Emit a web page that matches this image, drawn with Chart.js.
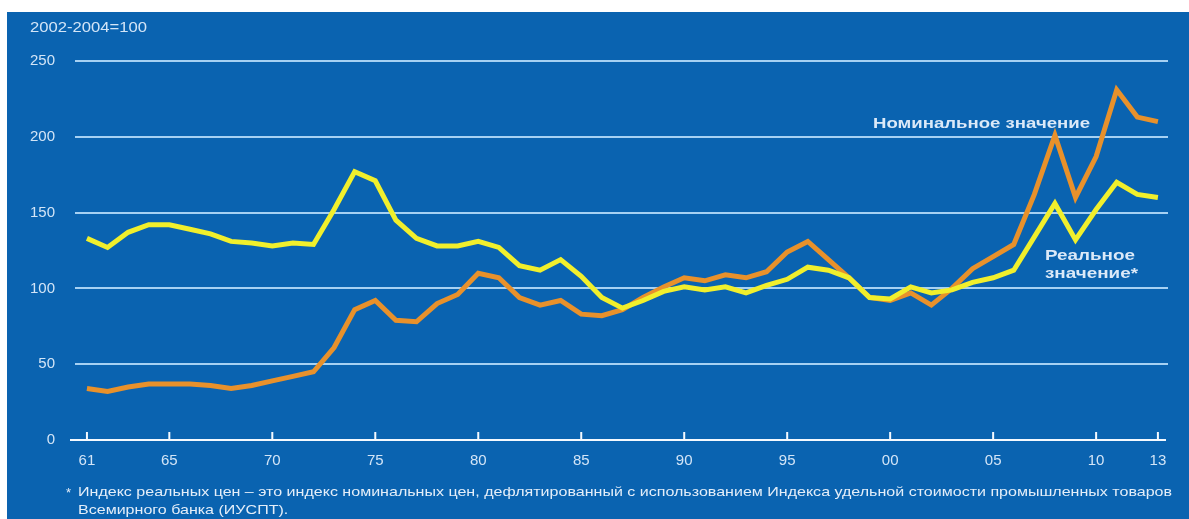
<!DOCTYPE html>
<html>
<head>
<meta charset="utf-8">
<script src="https://cdn.jsdelivr.net/npm/chart.js@4.4.1/dist/chart.umd.min.js"></script>
<style>
  html, body { margin: 0; padding: 0; background: #fff; }
  #wrap { width: 1189px; height: 519px; }
</style>
</head>
<body>
<div id="wrap"><canvas id="myChart"></canvas></div>
<script>
// years 1961..2013, index 2002-2004=100
const years = [];
for (let y = 1961; y <= 2013; y++) years.push(y);

const realValues = [
    133, 127, 137, 142, 142, 139, 136, 131, 130, 128,   // 61-70
    130, 129, 152, 177, 171, 145, 133, 128, 128, 131,   // 71-80
    127, 115, 112, 119, 108, 94, 87, 92, 98, 101,       // 81-90
    99, 101, 97, 102, 106, 114, 112, 107, 94, 93,       // 91-00
    101, 97, 99, 104, 107, 112, 134, 156, 132, 152,     // 01-10
    170, 162, 160                                       // 11-13
];

const nominalValues = [
    34, 32, 35, 37, 37, 37, 36, 34, 36, 39,             // 61-70
    42, 45, 61, 86, 92, 79, 78, 90, 96, 110,            // 71-80
    107, 94, 89, 92, 83, 82, 86, 94, 101, 107,          // 81-90
    105, 109, 107, 111, 124, 131, 119, 107, 94, 92,     // 91-00
    97, 89, 100, 113, 121, 129, 162, 201, 160, 187,     // 01-10
    231, 213, 210                                       // 11-13
];

const xTicks = [1961, 1965, 1970, 1975, 1980, 1985, 1990, 1995, 2000, 2005, 2010, 2013];
const yTicks = [0, 50, 100, 150, 200, 250];

const unitLabel = '2002-2004=100';
const nominalLabel = 'Номинальное значение';
const realLabel = ['Реальное', 'значение*'];
const footnote = [
    'Индекс реальных цен – это индекс номинальных цен, дефлятированный с использованием Индекса удельной стоимости промышленных товаров',
    'Всемирного банка (ИУСПТ).'
];

const bgBlue = '#0a63b0';
const textCol = '#d3e5f7';
const fontFam = '"Liberation Sans", Arial, sans-serif';

const ctx = document.getElementById('myChart').getContext('2d');

// draw text stretched horizontally (the source uses a wide-set face)
function wideText(c, text, x, y, sx) {
    c.save();
    c.translate(x, y);
    c.scale(sx, 1);
    c.fillText(text, 0, 0);
    c.restore();
}

const decor = {
    id: 'decor',
    beforeDraw(chart) {
        const c = chart.ctx;
        c.save();
        c.fillStyle = bgBlue;
        c.fillRect(7, 12, chart.width - 7, chart.height - 12);
        c.restore();
    },
    afterDatasetsDraw(chart) {
        const c = chart.ctx;
        const xs = chart.scales.x, ys = chart.scales.y;
        const y0 = ys.getPixelForValue(0);
        c.save();
        // axis line with small upward ticks
        c.strokeStyle = '#f4f9ff';
        c.lineWidth = 2;
        c.beginPath();
        c.moveTo(70, y0);
        c.lineTo(chart.chartArea.right - 2, y0);
        xTicks.forEach(t => {
            const px = xs.getPixelForValue(t);
            c.moveTo(px, y0);
            c.lineTo(px, y0 - 8);
        });
        c.stroke();
        c.restore();
    },
    afterDraw(chart) {
        const c = chart.ctx;
        c.save();
        c.fillStyle = textCol;
        c.textBaseline = 'middle';
        c.textAlign = 'left';

        c.font = '14px ' + fontFam;
        wideText(c, unitLabel, 30, 28, 117 / c.measureText(unitLabel).width);

        c.fillStyle = '#dbe9f8';
        c.font = 'bold 15px ' + fontFam;
        wideText(c, nominalLabel, 873, 124, 217 / c.measureText(nominalLabel).width);
        c.font = 'bold 14px ' + fontFam;
        const rs = 90 / c.measureText(realLabel[0]).width;
        wideText(c, realLabel[0], 1045, 256, rs);
        wideText(c, realLabel[1], 1045, 274, rs);

        c.fillStyle = '#e4eef9';
        c.font = '13px ' + fontFam;
        const fs = 1094 / c.measureText(footnote[0]).width;
        c.fillText('*', 66, 493);
        wideText(c, footnote[0], 78, 492, fs);
        wideText(c, footnote[1], 78, 510, fs);
        c.restore();
    }
};

let myChart = new Chart(ctx, {
    type: 'line',
    data: {
        datasets: [
            {
                label: 'Реальное значение*',
                data: years.map((y, i) => ({ x: y, y: realValues[i] })),
                borderColor: '#f1ef2c',
                borderWidth: 5,
                pointRadius: 0,
                tension: 0,
                fill: false
            },
            {
                label: 'Номинальное значение',
                data: years.map((y, i) => ({ x: y, y: nominalValues[i] })),
                borderColor: '#e8912b',
                borderWidth: 5,
                pointRadius: 0,
                tension: 0,
                fill: false
            }
        ]
    },
    options: {
        responsive: true,
        maintainAspectRatio: false,
        animation: false,
        layout: { padding: { left: 0, right: 21, top: 61, bottom: 54 } },
        plugins: {
            legend: { display: false },
            tooltip: { enabled: false }
        },
        scales: {
            x: {
                type: 'linear',
                min: 1960.42,
                max: 2013.49,
                afterBuildTicks: (scale) => { scale.ticks = xTicks.map(v => ({ value: v })); },
                afterFit: (scale) => { scale.height = 25; },
                grid: { display: false },
                border: { display: false },
                ticks: {
                    color: textCol,
                    font: { size: 15, family: fontFam },
                    padding: 4,
                    maxRotation: 0,
                    autoSkip: false,
                    callback: (v) => String(v % 100).padStart(2, '0')
                }
            },
            y: {
                min: 0,
                max: 250,
                afterBuildTicks: (scale) => { scale.ticks = yTicks.map(v => ({ value: v })); },
                afterFit: (scale) => { scale.width = 75; },
                grid: {
                    color: (c) => c.tick && c.tick.value === 0 ? 'rgba(0,0,0,0)' : '#a6d1f3',
                    lineWidth: 2,
                    drawTicks: false
                },
                border: { display: false },
                ticks: {
                    color: textCol,
                    font: { size: 15, family: fontFam },
                    padding: 20
                }
            }
        }
    },
    plugins: [decor]
});
</script>
</body>
</html>
